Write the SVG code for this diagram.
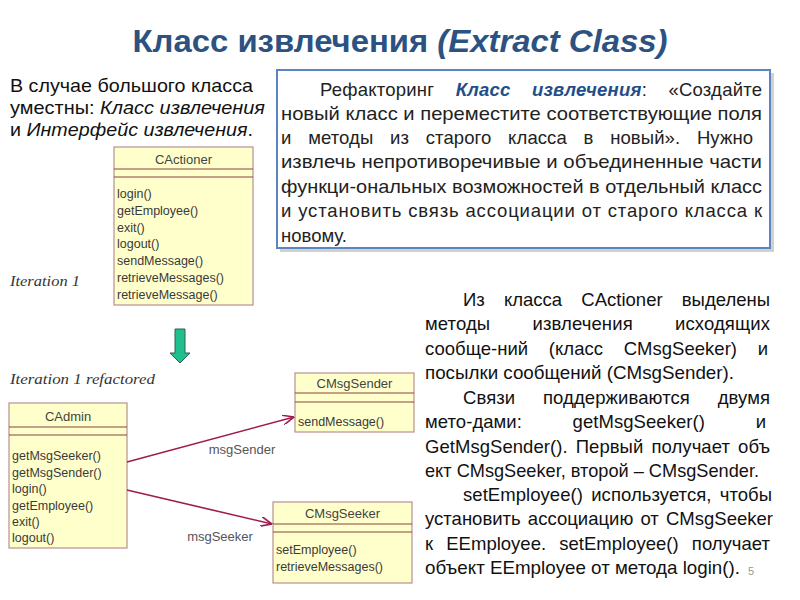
<svg xmlns="http://www.w3.org/2000/svg" width="800" height="600" viewBox="0 0 800 600">
<defs>
<style>
.title{font-family:"Liberation Sans",Arial,sans-serif;font-weight:bold;font-size:31px;fill:#2c5282;}
.lt{font-family:"Liberation Sans",Arial,sans-serif;font-size:19px;fill:#111;}
.bt{font-family:"Liberation Sans",Arial,sans-serif;font-size:18.5px;fill:#222;}
.rt{font-family:"Liberation Sans",Arial,sans-serif;font-size:18.5px;fill:#111;}
.it{font-style:italic;}
.hl{font-style:italic;font-weight:bold;fill:#1f4e8c;}
.iter{font-family:"Liberation Serif","Times New Roman",serif;font-style:italic;font-size:15px;fill:#333;}
.cls{fill:#ffffcc;stroke:#b89090;stroke-width:1.2;}
.sep{stroke:#8b4040;stroke-width:1;}
.ct{font-family:"Liberation Sans",Arial,sans-serif;font-size:12.5px;fill:#3a3a3a;}
.ctc{font-family:"Liberation Sans",Arial,sans-serif;font-size:13px;fill:#444;text-anchor:middle;}
.lbl{font-family:"Liberation Sans",Arial,sans-serif;font-size:13px;fill:#555;text-anchor:middle;}
.assoc{stroke:#a01c50;stroke-width:1.6;fill:none;}
</style>
<marker id="open" viewBox="0 0 12 10" refX="11.5" refY="5" markerWidth="12" markerHeight="10" markerUnits="userSpaceOnUse" orient="auto">
<path d="M0,0 L11.5,5 L0,10" fill="none" stroke="#a01c50" stroke-width="1.6"/>
</marker>
</defs>
<rect width="800" height="600" fill="#ffffff"/>

<text class="title" x="400" y="52" text-anchor="middle" textLength="535" lengthAdjust="spacingAndGlyphs">Класс извлечения <tspan font-style="italic">(Extract Class)</tspan></text>

<g id="intro">
<text class="lt" x="10" y="92" textLength="243" lengthAdjust="spacingAndGlyphs">В случае большого класса</text>
<text class="lt" x="10" y="114" textLength="255" lengthAdjust="spacingAndGlyphs">уместны: <tspan class="it">Класс извлечения</tspan></text>
<text class="lt" x="10" y="136" textLength="243" lengthAdjust="spacingAndGlyphs">и <tspan class="it">Интерфейс извлечения</tspan>.</text>
</g>

<g id="definition">
<rect x="280" y="73" width="494" height="179" fill="#999" opacity="0.45"/>
<rect x="277" y="70" width="493" height="178" fill="#ffffff" stroke="#5b85c0" stroke-width="2"/>
<text class="bt" x="320" y="96" word-spacing="16" textLength="442" lengthAdjust="spacing">Рефакторинг <tspan class="hl">Класс извлечения</tspan>: «Создайте</text>
<text class="bt" x="281" y="120" textLength="481" lengthAdjust="spacingAndGlyphs">новый класс и переместите соответствующие поля</text>
<text class="bt" x="281" y="144" word-spacing="11.5" textLength="472" lengthAdjust="spacing">и методы из старого класса в новый». Нужно</text>
<text class="bt" x="281" y="168" textLength="481" lengthAdjust="spacingAndGlyphs">извлечь непротиворечивые и объединенные части</text>
<text class="bt" x="281" y="193" textLength="481" lengthAdjust="spacingAndGlyphs">функци-ональных возможностей в отдельный класс</text>
<text class="bt" x="281" y="217" textLength="481" lengthAdjust="spacing">и установить связь ассоциации от старого класса к</text>
<text class="bt" x="281" y="242">новому.</text>
</g>

<g id="explanation">
<text class="rt" x="463" y="306" word-spacing="14" textLength="307" lengthAdjust="spacing">Из класса CActioner выделены</text>
<text class="rt" x="425" y="330" word-spacing="37" textLength="345" lengthAdjust="spacing">методы извлечения исходящих</text>
<text class="rt" x="425" y="355" word-spacing="15.5" textLength="343" lengthAdjust="spacing">сообще-ний (класс CMsgSeeker) и</text>
<text class="rt" x="425" y="379" textLength="309" lengthAdjust="spacingAndGlyphs">посылки сообщений (CMsgSender).</text>
<text class="rt" x="463" y="404" word-spacing="22.5" textLength="307" lengthAdjust="spacing">Связи поддерживаются двумя</text>
<text class="rt" x="425" y="428" word-spacing="45.5" textLength="341" lengthAdjust="spacing">мето-дами: getMsgSeeker() и</text>
<text class="rt" x="425" y="453" word-spacing="3" textLength="345" lengthAdjust="spacing">GetMsgSender(). Первый получает объ</text>
<text class="rt" x="425" y="477" textLength="334" lengthAdjust="spacingAndGlyphs">ект CMsgSeeker, второй – CMsgSender.</text>
<text class="rt" x="463" y="501" word-spacing="3" textLength="309" lengthAdjust="spacing">setEmployee() используется, чтобы</text>
<text class="rt" x="425" y="525" word-spacing="2" textLength="348" lengthAdjust="spacing">установить ассоциацию от CMsgSeeker</text>
<text class="rt" x="425" y="550" word-spacing="8" textLength="345" lengthAdjust="spacing">к EEmployee. setEmployee() получает</text>
<text class="rt" x="425" y="574" textLength="315" lengthAdjust="spacingAndGlyphs">объект EEmployee от метода login().</text>
<text x="748" y="575" font-family="Liberation Sans, Arial, sans-serif" font-size="11" fill="#999">5</text>
</g>

<text class="iter" x="10" y="286" textLength="70" lengthAdjust="spacingAndGlyphs">Iteration 1</text>
<text class="iter" x="10" y="384" textLength="145" lengthAdjust="spacingAndGlyphs">Iteration 1 refactored</text>

<g id="CActioner">
<rect class="cls" x="114" y="147" width="139" height="158"/>
<line class="sep" x1="114" y1="169" x2="253" y2="169"/>
<line class="sep" x1="114" y1="177" x2="253" y2="177"/>
<text class="ctc" x="183.5" y="164">CActioner</text>
<text class="ct" x="117" y="198">login()</text>
<text class="ct" x="117" y="215">getEmployee()</text>
<text class="ct" x="117" y="232">exit()</text>
<text class="ct" x="117" y="248">logout()</text>
<text class="ct" x="117" y="265">sendMessage()</text>
<text class="ct" x="117" y="282">retrieveMessages()</text>
<text class="ct" x="117" y="299">retrieveMessage()</text>
</g>

<g id="refactor-arrow">
<polygon points="175,329 185,329 185,353 190,353 180,363 170,353 175,353" fill="#22bf8e" stroke="#2f5f50" stroke-width="1"/>
</g>

<g id="CAdmin">
<rect class="cls" x="9" y="403" width="118" height="145"/>
<line class="sep" x1="9" y1="427" x2="127" y2="427"/>
<line class="sep" x1="9" y1="435" x2="127" y2="435"/>
<text class="ctc" x="68" y="421">CAdmin</text>
<text class="ct" x="12" y="460">getMsgSeeker()</text>
<text class="ct" x="12" y="477">getMsgSender()</text>
<text class="ct" x="12" y="493">login()</text>
<text class="ct" x="12" y="510">getEmployee()</text>
<text class="ct" x="12" y="526">exit()</text>
<text class="ct" x="12" y="542">logout()</text>
</g>

<g id="CMsgSender">
<rect class="cls" x="295" y="373" width="119" height="59"/>
<line class="sep" x1="295" y1="393" x2="414" y2="393"/>
<line class="sep" x1="295" y1="402" x2="414" y2="402"/>
<text class="ctc" x="354.5" y="388">CMsgSender</text>
<text class="ct" x="298" y="426">sendMessage()</text>
</g>

<g id="CMsgSeeker">
<rect class="cls" x="273" y="502" width="139" height="81"/>
<line class="sep" x1="273" y1="524" x2="412" y2="524"/>
<line class="sep" x1="273" y1="532" x2="412" y2="532"/>
<text class="ctc" x="342.5" y="518">CMsgSeeker</text>
<text class="ct" x="276" y="554">setEmployee()</text>
<text class="ct" x="276" y="571">retrieveMessages()</text>
</g>

<g id="connectors">
<line class="assoc" x1="127" y1="462" x2="294" y2="417" marker-end="url(#open)"/>
<line class="assoc" x1="127" y1="490" x2="272" y2="524" marker-end="url(#open)"/>
<text class="lbl" x="242" y="454">msgSender</text>
<text class="lbl" x="220" y="541">msgSeeker</text>
</g>
</svg>
